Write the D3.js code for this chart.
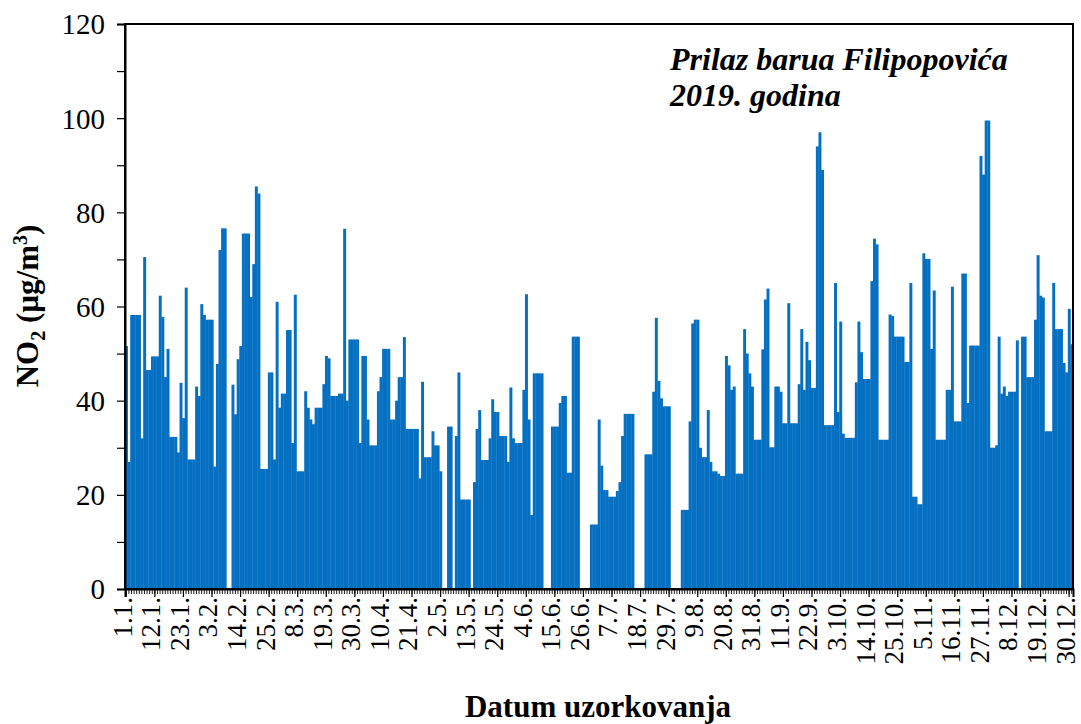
<!DOCTYPE html>
<html>
<head>
<meta charset="utf-8">
<script src="https://cdn.jsdelivr.net/npm/d3@7"></script>
<style>
  html, body { margin: 0; padding: 0; background: #fff; }
  svg { display: block; }
  text { font-family: "Liberation Serif", "Times New Roman", serif; fill: #000; }
</style>
</head>
<body>
<svg id="chart" width="1081" height="724"></svg>
<script>
// Daily NO2 concentrations (µg/m3), 2019, one array per month
const jan = [51.6, 27, 58.2, 58.2, 58.2, 58.2, 32, 70.5, 46.5, 46.5, 49.4, 49.4, 49.4, 62.3, 57.8, 45, 51, 32.3, 32.3, 32.3, 29, 43.8, 36.3, 64, 27.5, 27.5, 27.5, 43, 41, 60.5, 58.2];
const feb = [57.2, 57.2, 57.2, 26, 47.8, 72, 76.6, 76.6, 0, 0, 43.4, 37.1, 48.8, 51.6, 75.5, 75.5, 75.5, 62, 69, 85.5, 84, 25.5, 25.5, 25.5, 46, 46, 27.5, 61];
const mar = [38.5, 41.5, 41.5, 55, 55, 31, 62.5, 25, 25, 25, 42, 38.5, 36, 35, 38.5, 38.5, 38.5, 43.5, 49.5, 49, 41, 41, 41, 41.5, 41.5, 76.5, 40, 53, 53, 53, 53];
const apr = [31, 49.5, 49.5, 36, 30.5, 30.5, 30.5, 42, 45, 51, 51, 51, 36, 36, 40, 45, 45, 53.5, 34, 34, 34, 34, 34, 23.5, 44, 28, 28, 28, 33.5, 30.5];
const may = [30.5, 25, 0, 0, 34.5, 34.5, 0, 32.5, 46, 19, 19, 19, 19, 0, 22.7, 34, 38, 27.4, 27.4, 27.4, 32, 40.3, 37.6, 37.6, 32.5, 32.5, 32.5, 27, 42.8, 32, 31];
const jun = [31, 31, 42.3, 62.6, 36, 15.7, 45.8, 45.8, 45.8, 45.8, 0, 0, 0, 34.5, 34.5, 34.5, 39.5, 41, 41, 24.7, 24.7, 53.6, 53.6, 53.6, 0, 0, 0, 0, 13.7, 13.7];
const jul = [13.7, 36, 26.2, 21, 21, 19.6, 19.6, 19.6, 20.8, 22.7, 32.5, 37.2, 37.2, 37.2, 37.2, 0, 0, 0, 0, 28.6, 28.6, 28.6, 41.9, 57.6, 44.2, 40.5, 38.8, 38.8, 38.8, 0, 0];
const aug = [0, 0, 16.8, 16.8, 16.8, 35.6, 56.4, 57.2, 57.2, 30, 28, 28, 38, 27, 25, 25, 24.5, 24, 24, 49.5, 47.5, 42.3, 43, 24.5, 24.5, 24.5, 55.2, 50, 45.8, 43, 31.7];
const sep = [31.7, 31.7, 50.9, 61.5, 63.8, 30.1, 30.1, 43, 43, 41.9, 35.2, 35.2, 60.7, 35.2, 35.2, 35.2, 43.5, 55.2, 42.3, 52.5, 48.6, 42.7, 42.7, 94, 97, 89, 34.8, 34.8, 34.8, 34.8];
const oct = [65, 37.6, 56.8, 33, 32.1, 32.1, 32.1, 32.1, 43.9, 56.8, 50.3, 44.6, 44.6, 44.6, 65.4, 74.4, 73.2, 31.7, 31.7, 31.7, 31.7, 58.3, 58, 53.6, 53.6, 53.6, 53.6, 48.2, 48.2, 65, 19.6];
const nov = [19.6, 18, 18, 71.3, 70.1, 70.1, 51, 63.4, 31.7, 31.7, 31.7, 31.7, 42.3, 42.3, 64.2, 35.6, 35.6, 35.6, 67, 67, 39.5, 51.7, 51.7, 51.7, 51.7, 92, 88, 99.5, 99.5, 30];
const dec = [30, 30.5, 53.6, 41.5, 43, 41, 41.9, 41.9, 41.9, 52.8, 0, 53.6, 53.6, 45, 45, 45, 57.2, 70.9, 62.3, 61.9, 33.5, 33.5, 33.5, 65, 55.2, 55.2, 55.2, 48, 46, 59.5, 52];

// Labelled dates on the x axis (every 11th day)
const tickLabels = ["1.1.", "12.1.", "23.1.", "3.2.", "14.2.", "25.2.", "8.3.", "19.3.", "30.3.", "10.4.", "21.4.", "2.5.", "13.5.", "24.5.", "4.6.", "15.6.", "26.6.", "7.7.", "18.7.", "29.7.", "9.8.", "20.8.", "31.8.", "11.9.", "22.9.", "3.10.", "14.10.", "25.10.", "5.11.", "16.11.", "27.11.", "8.12.", "19.12.", "30.12."];
const yTicks = [0, 20, 40, 60, 80, 100, 120];
const yMinorTicks = [10, 30, 50, 70, 90, 110];

const values = [].concat(jan, feb, mar, apr, may, jun, jul, aug, sep, oct, nov, dec);
const days = d3.range(values.length);

const serif = '"Liberation Serif", "Times New Roman", serif';
const svg = d3.select("#chart");
const plot = { left: 125, right: 1073, top: 24, bottom: 589 };

const x = d3.scaleBand().domain(days).range([plot.left, plot.right]).padding(0);
const y = d3.scaleLinear().domain([0, 120]).range([plot.bottom, plot.top]);

// Bars (one per day, no gaps between neighbours)
svg.append("g")
  .selectAll("rect")
  .data(values)
  .join("rect")
  .attr("x", (d, i) => x(i))
  .attr("width", x.bandwidth() + 0.35)
  .attr("y", d => y(d))
  .attr("height", d => y(0) - y(d))
  .attr("fill", "#0570c2");

// Plot frame
svg.append("rect")
  .attr("x", plot.left).attr("y", plot.top)
  .attr("width", plot.right - plot.left).attr("height", plot.bottom - plot.top)
  .attr("fill", "none").attr("stroke", "#000").attr("stroke-width", 2);

// Y axis
const yAxis = d3.axisLeft(y).tickValues(yTicks).tickSize(8).tickPadding(12).tickFormat(d3.format("d"));
const gy = svg.append("g").attr("transform", `translate(${plot.left},0)`).call(yAxis);
gy.attr("font-family", serif);
gy.select(".domain").attr("stroke-width", 2);
gy.selectAll(".tick line").attr("stroke-width", 1.2);
gy.selectAll("text").style("font-size", "29px").style("font-family", serif).attr("dy", "0.34em");
const gyMinor = svg.append("g").attr("transform", `translate(${plot.left},0)`)
  .call(d3.axisLeft(y).tickValues(yMinorTicks).tickSize(8).tickFormat(""));
gyMinor.select(".domain").remove();
gyMinor.selectAll(".tick line").attr("stroke-width", 1.2);

// X axis: a small tick for every day, a longer one under every labelled date
const xCenter = i => x(i) + x.bandwidth() / 2;
const gxMinor = svg.append("g").attr("transform", `translate(0,${plot.bottom})`);
gxMinor.selectAll("line").data(days).join("line")
  .attr("x1", d => xCenter(d)).attr("x2", d => xCenter(d))
  .attr("y1", 0).attr("y2", 5)
  .attr("stroke", "#000").attr("stroke-width", 0.9);

const labelDays = tickLabels.map((t, k) => k * 11);
const xAxis = d3.axisBottom(x).tickValues(labelDays).tickSize(8)
  .tickFormat((d, k) => tickLabels[k]);
const gx = svg.append("g").attr("transform", `translate(0,${plot.bottom})`).call(xAxis);
gx.attr("font-family", serif);
gx.select(".domain").attr("stroke-width", 2);
gx.selectAll(".tick line").attr("stroke-width", 1.2);
gx.selectAll("text")
  .style("font-size", "27px").style("font-family", serif)
  .attr("text-anchor", "end")
  .attr("dy", "0.2em")
  .attr("y", 0)
  .attr("x", 0)
  .attr("transform", "translate(0,8) rotate(-90)");

// Axis titles
svg.append("text")
  .attr("x", 598).attr("y", 717)
  .attr("text-anchor", "middle")
  .style("font-size", "31px").style("font-weight", "bold")
  .text("Datum  uzorkovanja");

const yTitle = svg.append("text")
  .attr("transform", "translate(38,306) rotate(-90)")
  .attr("text-anchor", "middle")
  .style("font-size", "31px").style("font-weight", "bold");
yTitle.append("tspan").text("NO");
yTitle.append("tspan").attr("dy", 7).style("font-size", "20px").text("2");
yTitle.append("tspan").attr("dy", -7).text(" (µg/m");
yTitle.append("tspan").attr("dy", -11).style("font-size", "20px").text("3");
yTitle.append("tspan").attr("dy", 11).text(")");

// Station and year caption inside the plot
const caption = svg.append("g")
  .style("font-size", "32px").style("font-weight", "bold").style("font-style", "italic");
caption.append("text").attr("x", 670).attr("y", 70).text("Prilaz barua Filipopovića");
caption.append("text").attr("x", 670).attr("y", 106).text("2019. godina");
</script>
</body>
</html>
